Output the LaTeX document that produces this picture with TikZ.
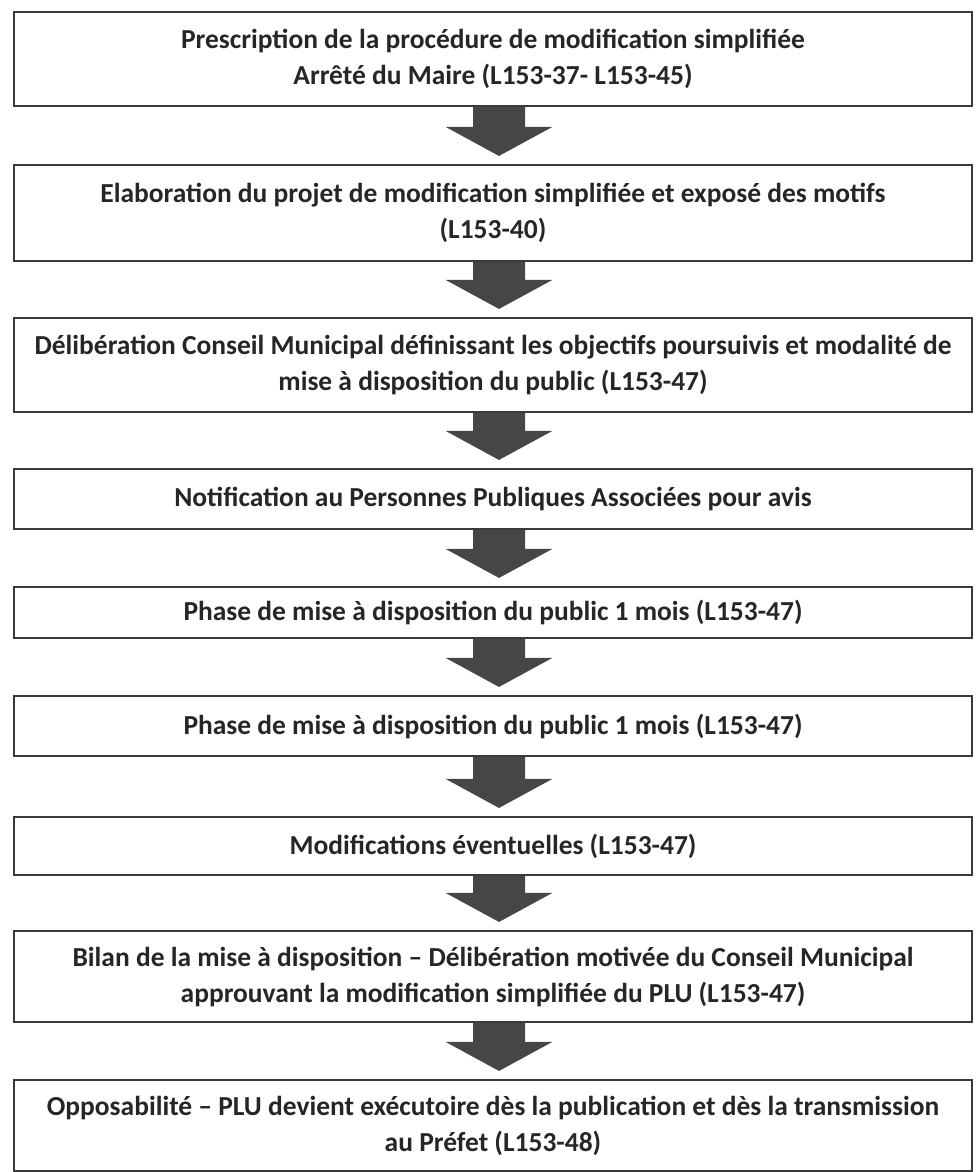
\documentclass[tikz,border=0pt]{standalone}
\usepackage{fontspec}
\setmainfont{Carlito}
\definecolor{trait}{HTML}{3A3A3A}
\definecolor{gris}{HTML}{464646}
% fleche pleine entre deux etapes
\newcommand{\fleche}[2]{\fill[gris] ([xshift=-15pt]#1.south)
  -- ([xshift=-15pt,yshift=27.75pt]#2.north) -- ([xshift=-35.5pt,yshift=27.75pt]#2.north)
  -- ([xshift=4.5pt,yshift=6pt]#2.north)
  -- ([xshift=44.5pt,yshift=27.75pt]#2.north) -- ([xshift=24pt,yshift=27.75pt]#2.north)
  -- ([xshift=24pt]#1.south) -- cycle;}
\begin{document}
\begin{tikzpicture}[x=0.75pt,y=-0.75pt,
  etape/.style={draw=trait, line width=1.6pt, fill=white, minimum width=718.5pt,
    align=center, inner sep=0pt, text=black!85,
    font=\fontsize{20.6}{27}\selectfont\bfseries}]
\useasboundingbox (0,0) rectangle (976,1172);
\node[etape, minimum height=70.5pt] (b1) at (493,59)
  {Prescription de la procédure de modification simplifiée\\Arrêté du Maire (L153-37- L153-45)};
\node[etape, minimum height=72pt] (b2) at (493,213)
  {Elaboration du projet de modification simplifiée et exposé des motifs\\(L153-40)};
\node[etape, minimum height=70.5pt] (b3) at (493,365)
  {Délibération Conseil Municipal définissant les objectifs poursuivis et modalité de\\mise à disposition du public (L153-47)};
\node[etape, minimum height=45pt] (b4) at (493,499)
  {Notification au Personnes Publiques Associées pour avis};
\node[etape, minimum height=38.25pt] (b5) at (493,612.5)
  {Phase de mise à disposition du public 1 mois (L153-47)};
\node[etape, minimum height=45pt] (b6) at (493,726)
  {Phase de mise à disposition du public 1 mois (L153-47)};
\node[etape, minimum height=43.5pt] (b7) at (493,846)
  {Modifications éventuelles (L153-47)};
\node[etape, minimum height=68.25pt] (b8) at (493,976.5)
  {Bilan de la mise à disposition – Délibération motivée du Conseil Municipal\\approuvant la modification simplifiée du PLU (L153-47)};
\node[etape, minimum height=68.25pt] (b9) at (493,1125.5)
  {Opposabilité – PLU devient exécutoire dès la publication et dès la transmission\\au Préfet (L153-48)};
\fleche{b1}{b2}
\fleche{b2}{b3}
\fleche{b3}{b4}
\fleche{b4}{b5}
\fleche{b5}{b6}
\fleche{b6}{b7}
\fleche{b7}{b8}
\fleche{b8}{b9}
\end{tikzpicture}
\end{document}
